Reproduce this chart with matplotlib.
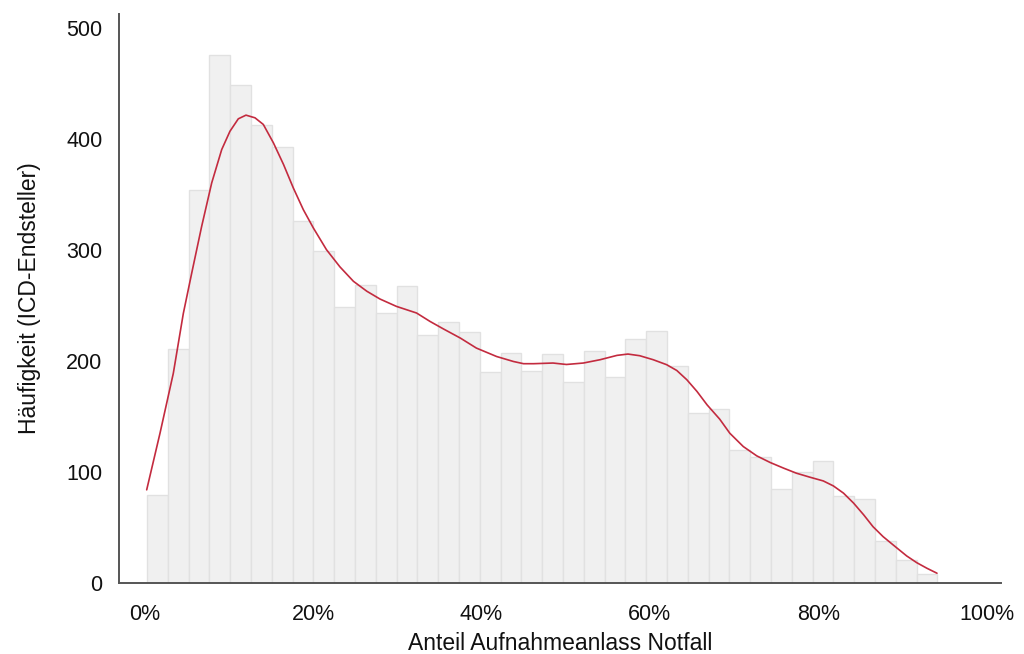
import matplotlib
matplotlib.use("Agg")
import matplotlib.pyplot as plt
import numpy as np

# Histogram: 38 bins spanning the observed range of the data (share, 0..1)
bin_start = 0.0029
bin_end = 0.9415
bin_counts = [79, 211, 354, 476, 449, 413, 393, 326, 299, 249,
              269, 243, 268, 224, 235, 226, 190, 207, 191, 206,
              181, 209, 186, 220, 227, 196, 153, 157, 120, 114,
              85, 100, 110, 78, 76, 38, 21, 8]

# Density curve (scaled to counts), x in percent
kde_x = [0.25, 1.83, 3.41, 4.6, 5.6, 6.78, 7.97, 9.16, 10.14, 11.13,
         12.04, 13.11, 14.1, 15.3, 16.5, 17.66, 18.85, 20.04, 21.6, 23.2,
         24.8, 26.4, 27.96, 29.9, 32.3, 33.9, 35.5, 37.5, 39.4, 41.8,
         43.8, 45.0, 46.2, 48.5, 50.1, 52.1, 54.1, 56.1, 57.4, 58.8,
         60.4, 62.0, 63.2, 64.4, 65.6, 66.8, 68.3, 69.5, 71.1, 72.7,
         74.3, 75.9, 77.4, 79.0, 80.6, 81.8, 83.0, 84.2, 85.4, 86.5,
         87.7, 88.9, 90.5, 91.7, 92.9, 94.1]
kde_y = [84, 135, 189, 243, 279.5, 321.6, 360.7, 390.8, 407.3, 418.5,
         421.8, 419.4, 413.4, 396.8, 377.3, 356.2, 336.6, 320.1, 300.5, 285,
         272, 263, 256, 249.4, 243.4, 235.8, 229, 220.8, 211.8, 204.2,
         199.7, 197.7, 197.7, 198.3, 197, 198.3, 201.3, 205.2, 206.4, 204.9,
         201.3, 196.8, 191.6, 183.2, 172.7, 160.6, 147.7, 135, 123, 114.6,
         108.6, 103.5, 99, 95.4, 92, 87.5, 81, 72, 61.4, 50.8,
         41.8, 34.3, 24.4, 18.3, 13.3, 8.8]

x_ticks = [0, 0.2, 0.4, 0.6, 0.8, 1.0]
x_tick_labels = ["0%", "20%", "40%", "60%", "80%", "100%"]
y_ticks = [0, 100, 200, 300, 400, 500]

plt.rcParams['font.family'] = ['Liberation Sans', 'DejaVu Sans']

fig = plt.figure(figsize=(10.24, 6.54), dpi=100)
ax = fig.add_axes([0.1162, 0.1086, 0.8613, 0.8700])

edges = np.linspace(bin_start, bin_end, len(bin_counts) + 1)
ax.bar(edges[:-1], bin_counts, width=np.diff(edges), align='edge',
       color='#f0f0f0', edgecolor='#e1e1e1', linewidth=1.0, zorder=1)

ax.plot(np.array(kde_x) / 100.0, kde_y, color='#c32b3f', linewidth=1.2,
        zorder=3, solid_capstyle='round', solid_joinstyle='round')

ax.set_xlim(-0.0304, 1.017)
ax.set_ylim(0, 513)

ax.set_xticks(x_ticks)
ax.set_xticklabels(x_tick_labels)
ax.set_yticks(y_ticks)

ax.tick_params(axis='both', length=0, labelsize=15.5, colors='#111111')
ax.tick_params(axis='x', pad=15)
ax.tick_params(axis='y', pad=12)

for side in ['top', 'right']:
    ax.spines[side].set_visible(False)
for side in ['left', 'bottom']:
    ax.spines[side].set_color('#555555')
    ax.spines[side].set_linewidth(1.4)

ax.set_xlabel("Anteil Aufnahmeanlass Notfall", fontsize=16.5, labelpad=5,
              color='#111111')
ax.set_ylabel("Häufigkeit (ICD-Endsteller)", fontsize=16.5, labelpad=18,
              color='#111111')

fig.savefig("out.png", dpi=100)
